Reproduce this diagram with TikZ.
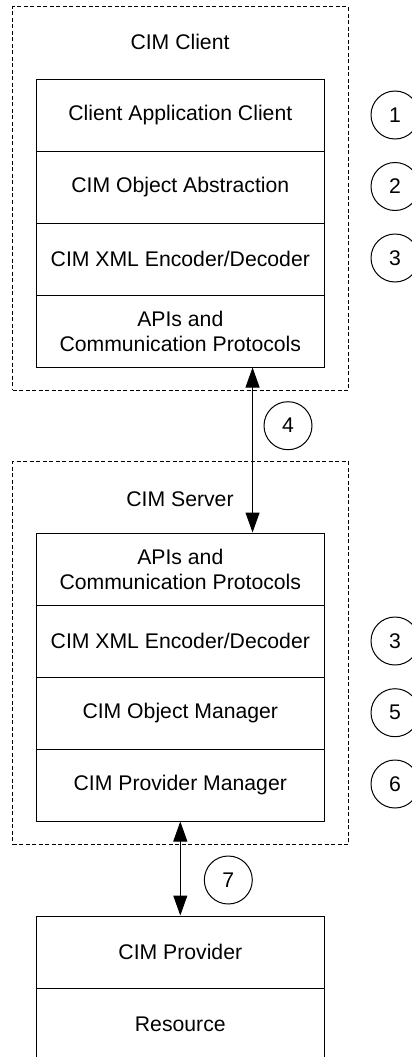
\documentclass[tikz,border=0pt]{standalone}
\usepackage{fontspec}
\setmainfont{Liberation Sans}
\usetikzlibrary{arrows.meta,calc}
\begin{document}
\begin{tikzpicture}[x=1pt,y=-1pt,
  every node/.style={font=\fontsize{21.2}{25}\selectfont, align=center},
  layer/.style={draw, line width=1pt, rectangle, minimum width=288pt, minimum height=72pt, inner sep=0pt},
  group/.style={draw, line width=1pt, dash pattern=on 4pt off 2.5pt, rectangle, inner sep=0pt},
  num/.style={draw, line width=1pt, circle, minimum size=48pt, inner sep=0pt},
  link/.style={line width=1pt, {Triangle[length=20pt,width=14pt]}-{Triangle[length=20pt,width=14pt]}}
]
\useasboundingbox (0,0) rectangle (412,1057);
% groups
\node[group, minimum width=336pt, minimum height=383pt] (client) at (180.7,198.5) {};
\node[group, minimum width=336pt, minimum height=382.3pt] (server) at (180.7,652.85) {};
\node (clientlbl) at (180,42) {CIM Client};
\node (serverlbl) at (180,499) {CIM Server};
% client layers
\node[layer] (c1) at (180.3,115) {Client Application Client};
\node[layer] (c2) at (180.3,187) {CIM Object Abstraction};
\node[layer] (c3) at (180.3,259) {CIM XML Encoder/Decoder};
\node[layer] (c4) at (180.3,331) {APIs and\\Communication Protocols};
% server layers
\node[layer] (s1) at (180.3,569) {APIs and\\Communication Protocols};
\node[layer] (s2) at (180.3,641) {CIM XML Encoder/Decoder};
\node[layer] (s3) at (180.3,713) {CIM Object Manager};
\node[layer] (s4) at (180.3,785) {CIM Provider Manager};
% provider
\node[layer] (p1) at (180.3,952) {CIM Provider};
\node[layer] (p2) at (180.3,1024) {Resource};
% numbers
\node[num] (n1) at (395,115) {1};
\node[num] (n2) at (395,186.5) {2};
\node[num] (n3a) at (395,258) {3};
\node[num] (n4) at (288,425.7) {4};
\node[num] (n3b) at (395,641) {3};
\node[num] (n5) at (395,712.7) {5};
\node[num] (n6) at (395,784) {6};
\node[num] (n7) at (228.3,880) {7};
% connectors
\coordinate (a4top) at ($(c4.south west)!0.750!(c4.south east)$);
\coordinate (a4bot) at ($(s1.north west)!0.750!(s1.north east)$);
\draw[link] (a4top) -- (a4bot);
\draw[link] (s4.south) -- (p1.north);
\end{tikzpicture}
\end{document}
